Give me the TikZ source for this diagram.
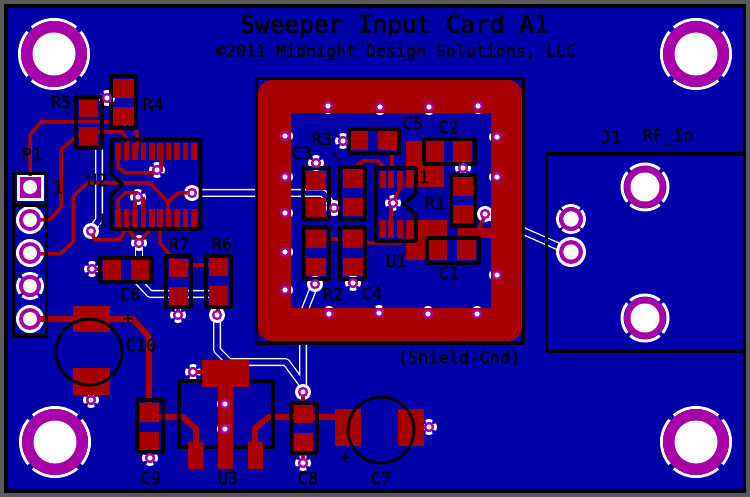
\documentclass[tikz,border=0pt]{standalone}
\usepackage{fontspec}
\setmainfont{DejaVu Sans Mono}
\newfontfamily\lblfont[RawFeature={embolden=0.9}]{DejaVu Sans Mono}
\newfontfamily\titlefont[RawFeature={embolden=1.6}]{DejaVu Sans Mono}
\definecolor{pcbblue}{HTML}{0000A8}
\definecolor{pcbred}{HTML}{A80000}
\definecolor{pcbvia}{HTML}{A800A8}
\definecolor{pcbgrey}{HTML}{5A5A5A}
\newcommand{\ringarcs}[5]{% x y r width halfangle
  \foreach \aa in {0,90,180,270}{
    \draw[white,line width=#4] (#1,#2) ++(\aa-#5:#3) arc[start angle=\aa-#5,end angle=\aa+#5,radius=#3];}}
\newcommand{\plated}[4]{% x y outer hole
  \fill[pcbvia] (#1,#2) circle[radius=#3];
  \fill[white] (#1,#2) circle[radius=#4];}
\newcommand{\padrect}[4]{\fill[pcbred] (#1,#2) rectangle (#3,#4);}
\newcommand{\silkbox}[4]{\draw[silk] (#1+1,#2+1) rectangle (#3-1,#4-1);}
\tikzset{
  lb/.style={font=\lblfont\fontsize{17}{17}\selectfont,text=black,inner sep=0pt},
  silk/.style={draw=black,line width=3.8pt,line join=round,line cap=round},
  cop/.style={draw=pcbred,line width=3.5pt,line join=round},
  copw/.style={draw=pcbred,line width=6pt,line join=round},
  casing/.style={draw=white,line width=8pt,line join=round,line cap=round},
  inner trace/.style={draw=pcbblue,line width=5.4pt,line join=round,line cap=round},
}
\begin{document}
\begin{tikzpicture}[x=1pt,y=-1pt]
\useasboundingbox (0,0) rectangle (750,497);
\fill[pcbgrey] (0,0) rectangle (750,497);
\fill[pcbblue] (5,5) rectangle (745,491);
% bottom-layer traces with clearance
\def\botA{(99,150) -- (99,220) -- (91,231)}
\def\botB{(192,193) -- (323,193) -- (334,208)}
\def\botC{(315,284) -- (304,312) -- (303,345) -- (303,392)}
\def\botD{(217,315) -- (217,350) -- (229,362) -- (286,362) -- (303,385)}
\def\botE{(135,278) -- (150,294) -- (216,294)}
\def\botF{(485,214) -- (530,234) -- (571,252)}
\def\botG{(139,243) -- (139,270)}
\foreach \p in {\botA,\botB,\botC,\botD,\botE,\botF,\botG}{\draw[casing] \p;}
\foreach \p in {\botA,\botB,\botC,\botD,\botE,\botF,\botG}{\draw[inner trace] \p;}
% thermal vias
\foreach \x/\y in {328/106,380/107,429/107,478/106,329/314,379/313,428/314,477/314,
  285/136,285/177,285/213,285/252,285/290,497/137,497/177,497/275,
  393/203,343/141,316/163,463/168,353/283,107/98,157/170,138/197,139/243,92/269,
  91/400,150/458,178/315,193/372,225/404,225/429,303/463,429/427}{
  \ringarcs{\x}{\y}{6.5}{3pt}{30}}
% full-ring vias
\foreach \x/\y in {91/231,192/193,334/208,485/214,315/284,217/315,303/392}{
  \fill[white] (\x,\y) circle[radius=8];}
% mounting holes, connector pads: clearance
\foreach \x/\y in {54/54,696/54,55/442,696/442}{\ringarcs{\x}{\y}{34.5}{3pt}{40}}
\foreach \x/\y in {645/187,645/318}{\ringarcs{\x}{\y}{23}{3pt}{40}}
\ringarcs{571}{219}{13.5}{3pt}{40}
\fill[white] (571,252) circle[radius=15];
\fill[white] (17,174) rectangle (44,201);
\foreach \y in {220,253,319}{\fill[white] (30,\y) circle[radius=14];}
\ringarcs{30}{286}{12.5}{3pt}{38}
% shield copper
\fill[pcbred,even odd rule,rounded corners=14pt] (258,80) rectangle (522,341)
  {[sharp corners] (291,113) rectangle (491,308)};
% inner copper
\padrect{406}{141}{444}{187}
\padrect{406}{220}{447}{260}
\padrect{458}{228}{491}{238}
\draw[cop] (485,216) -- (477,233);
\padrect{425}{141}{444}{162}\padrect{453}{141}{472}{162}
\padrect{350}{131}{368}{150}\padrect{378}{131}{397}{150}
\padrect{453}{177}{473}{196}\padrect{453}{205}{473}{223}
\padrect{428}{240}{447}{260}\padrect{457}{240}{476}{260}
\padrect{306}{171}{326}{190}\padrect{306}{198}{326}{217}
\padrect{343}{169}{363}{188}\padrect{343}{198}{363}{216}
\padrect{306}{230}{326}{248}\padrect{306}{258}{326}{276}
\padrect{343}{230}{363}{248}\padrect{343}{258}{363}{276}
\draw[cop] (326,239) -- (343,239);
\draw[cop] (363,241) -- (370,243) -- (401,243) -- (404,238);
\draw[cop] (355,167) -- (362,161) -- (378,161) -- (385,168);
\draw[cop] (392,150) -- (392,170);
\draw[cop] (393,203) -- (400,188);
\draw[cop] (391,203) -- (391,222);
\foreach \x in {383,391,400,409}{\padrect{\x-3}{171}{\x+3}{188}\padrect{\x-3}{220}{\x+3}{238}}
% U2 copper
\foreach \i in {0,...,9}{\pgfmathsetmacro{\xx}{118+8.44*\i}
  \padrect{\xx-2.8}{143}{\xx+2.8}{160}\padrect{\xx-2.8}{209}{\xx+2.8}{227}}
\padrect{79}{100}{98}{117}\padrect{79}{127}{98}{145}
\padrect{113}{79}{134}{98}\padrect{113}{107}{134}{125}
\draw[cop] (30,176) -- (30,135) -- (41,122) -- (127,122) -- (137,132) -- (137,150);
\draw[cop] (98,132) -- (122,132) -- (128,140) -- (127,148);
\draw[cop] (125,125) -- (125,130);
\draw[cop] (79,135) -- (61,149) -- (61,207) -- (50,220) -- (30,220);
\draw[cop] (30,254) -- (60,254) -- (73,242) -- (73,197) -- (87,183) -- (150,183) -- (168,202) -- (168,212);
\draw[cop] (168,202) -- (178,193) -- (192,193);
\draw[cop] (118,155) -- (118,167) -- (125,173) -- (157,173);
\draw[cop] (161,155) -- (161,172);
\draw[cop] (118,212) -- (118,200) -- (125,193) -- (138,193);
\draw[cop] (135,197) -- (135,212);
\draw[cop] (143,197) -- (143,212);
\draw[cop] (127,226) -- (120,240) -- (95,240) -- (91,231);
\draw[cop] (127,228) -- (139,243) -- (153,226);
\draw[cop] (160,225) -- (160,243) -- (170,255) -- (175,262);
\padrect{103}{260}{121}{280}\padrect{131}{260}{149}{280}
\draw[cop] (92,269) -- (103,269);
\padrect{169}{259}{188}{277}\padrect{169}{287}{188}{305}
\padrect{209}{258}{228}{276}\padrect{209}{286}{228}{305}
\draw[cop] (188,265) -- (209,265);
\draw[cop] (178,305) -- (178,315);
\draw[cop] (218,305) -- (218,315);
% power section copper
\padrect{73}{306}{110}{332}\padrect{73}{368}{110}{395}
\draw[copw] (30,319) -- (133,319) -- (149,337) -- (149,405);
\draw[cop] (91,395) -- (91,400);
\padrect{140}{403}{159}{422}\padrect{140}{432}{159}{450}
\draw[cop] (150,450) -- (150,458);
\draw[copw] (159,417) -- (183,417) -- (196,429) -- (196,445);
\padrect{188}{442}{203}{469}\padrect{218}{387}{233}{469}
\padrect{202}{360}{249}{387}\padrect{248}{442}{263}{469}
\draw[cop] (193,372) -- (202,372);
\draw[copw] (255,445) -- (255,428) -- (269,417) -- (294,417);
\padrect{294}{405}{313}{423}\padrect{294}{433}{313}{451}
\draw[copw] (313,417) -- (335,417);
\padrect{335}{409}{361}{446}\padrect{398}{409}{424}{446}
\draw[cop] (424,427) -- (429,427);
\draw[cop] (303,392) -- (303,405);
\draw[cop] (303,451) -- (303,463);
% silkscreen
\draw[black,line width=3.6pt] (5.8,5.8) rectangle (744.5,491);
\draw[silk,line join=miter] (256.5,78.5) rectangle (523.5,343);
\silkbox{75}{96}{103}{149}
\silkbox{110}{75}{137}{129}
\draw[silk] (111.5,139.5) -- (200.5,139.5) -- (200.5,229) -- (111.5,229) -- (111.5,195) -- (122,184) -- (111.5,175) -- cycle;
\draw[silk] (13.5,173.5) rectangle (46.5,336);
\draw[silk] (13.5,205) -- (46.5,205);
\silkbox{99}{257}{153}{283}
\silkbox{165}{255}{192}{308}
\silkbox{205}{255}{232}{308}
\silkbox{423}{138}{476}{165}
\silkbox{348}{128}{400}{154}
\silkbox{450}{174}{476}{227}
\silkbox{426}{237}{480}{264}
\silkbox{302}{167}{330}{220}
\silkbox{339}{166}{366}{220}
\silkbox{302}{226}{330}{280}
\silkbox{339}{226}{366}{280}
\draw[silk] (376,168) -- (416,168) -- (416,193) -- (404,204) -- (416,215) -- (416,241) -- (376,241) -- cycle;
\draw[black,line width=1.5pt] (332,152) -- (340,161);
\silkbox{136}{399}{164}{453}
\silkbox{290}{402}{318}{454}
\draw[silk] (200,381) -- (179,381) -- (179,447) -- (187,447);
\draw[silk] (205,447) -- (216,447);
\draw[silk] (235,447) -- (246,447);
\draw[silk] (265,447) -- (273,447) -- (273,381) -- (251,381);
\draw[black,line width=3pt] (89,352) circle[radius=33];
\draw[black,line width=3pt] (381,430) circle[radius=33];
\draw[silk] (743,154) -- (546.5,154) -- (546.5,351.5) -- (743,351.5);
% plated holes on top
\foreach \x/\y in {328/106,380/107,429/107,478/106,329/314,379/313,428/314,477/314,
  285/136,285/177,285/213,285/252,285/290,497/137,497/177,497/275,
  393/203,343/141,316/163,463/168,353/283,107/98,157/170,138/197,139/243,92/269,
  91/400,150/458,178/315,193/372,225/404,225/429,303/463,429/427,
  91/231,192/193,334/208,485/214,315/284,217/315,303/392}{\plated{\x}{\y}{5.2}{2.6}}
\foreach \x/\y in {54/54,696/54,55/442,696/442}{\plated{\x}{\y}{33}{21.5}}
\foreach \x/\y in {645/187,645/318}{\plated{\x}{\y}{21}{14.5}}
\foreach \y in {219,252}{\plated{571}{\y}{12}{7.7}}
\fill[pcbvia] (20,177) rectangle (41,198);
\fill[white] (30,187) circle[radius=7];
\foreach \y in {220,253,286,319}{\plated{30}{\y}{11}{7}}
% texts
\node[lb,font=\titlefont\fontsize{24.4}{24}\selectfont] (title) at (394.5,26) {Sweeper Input Card A1};
\node[lb,font=\lblfont\fontsize{16.6}{17}\selectfont] (copyr) at (396,52) {©2011 Midnight Design Solutions, LLC};
\node[lb] (tR5) at (61,102) {R5};
\node[lb] (tR4) at (153,104) {R4};
\node[lb] (tP1) at (32,154) {P1};
\node[lb] (tP1a) at (58,187) {1};
\node[lb] (tU2) at (97,180) {U2};
\node[lb] (tU2a) at (102,220) {1};
\node[lb] (tR7) at (179,244) {R7};
\node[lb] (tR6) at (222,244) {R6};
\node[lb] (tC6) at (130,294) {C6};
\node[lb] (tC10) at (141,345) {C10};
\node[lb] (tplusa) at (128,319) {+};
\node[lb] (tC9) at (151,478) {C9};
\node[lb] (tU3) at (228,478) {U3};
\node[lb] (tC8) at (308,478) {C8};
\node[lb] (tC7) at (381,478) {C7};
\node[lb] (tplusb) at (345,458) {+};
\node[lb] (tsg) at (459,358) {(Shield-Gnd)};
\node[lb] (tC5) at (413,123) {C5};
\node[lb] (tC2) at (449,127) {C2};
\node[lb] (tR3) at (322,139) {R3};
\node[lb] (tC3) at (302,153) {C3};
\node[lb] (tU1a) at (424,177) {1};
\node[lb] (tR1) at (435,203) {R1};
\node[lb] (tU1) at (396,261) {U1};
\node[lb] (tC1) at (449,273) {C1};
\node[lb] (tR2) at (333,294) {R2};
\node[lb] (tC4) at (372,293) {C4};
\node[lb] (tJ1) at (611,137) {J1};
\node[lb] (tRF) at (668,137) {RF\_In};
\end{tikzpicture}
\end{document}
